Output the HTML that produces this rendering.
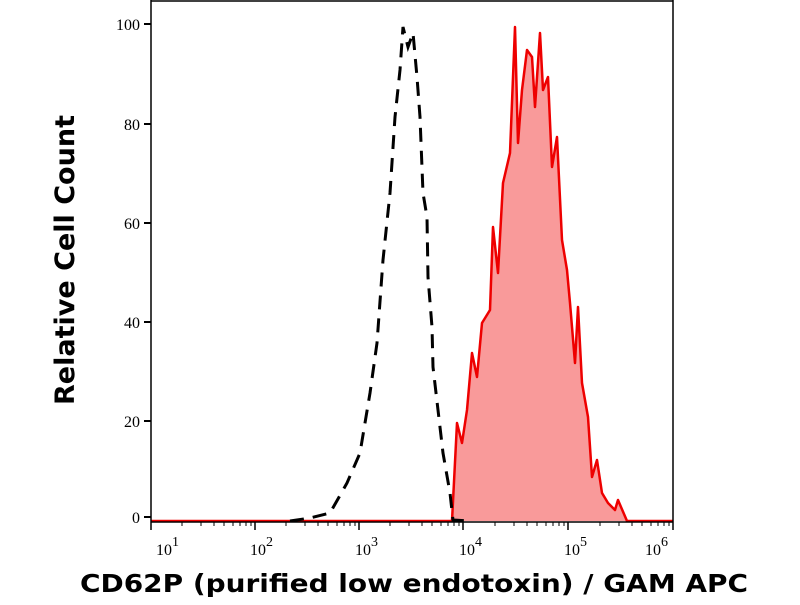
<!DOCTYPE html>
<html><head><style>body{margin:0;background:#fff}</style></head><body>
<svg width="800" height="600" viewBox="0 0 800 600" xmlns="http://www.w3.org/2000/svg">
<rect width="800" height="600" fill="#fff"/>
<polygon fill="#f99a9a" points="452,521 457,423 462,443 467,410 472,353 477,377 482,323 490,310 493,227 498,273 503,183 510,153 515,27 518,143 522,90 527,50 532,57 535,107 540,33 543,90 548,77 552,167 557,137 562,240 567,270 570,303 575,363 578,307 582,383 588,417 592,477 597,460 602,493 608,503 615,510 618,500 627,521"/>
<polyline fill="none" stroke="#e00" stroke-width="2.5" stroke-linejoin="round" points="151,521 452,521 457,423 462,443 467,410 472,353 477,377 482,323 490,310 493,227 498,273 503,183 510,153 515,27 518,143 522,90 527,50 532,57 535,107 540,33 543,90 548,77 552,167 557,137 562,240 567,270 570,303 575,363 578,307 582,383 588,417 592,477 597,460 602,493 608,503 615,510 618,500 627,521 673,521"/>
<polyline fill="none" stroke="#000" stroke-width="3" stroke-dasharray="14,9" points="290,521 310,518 330,513 347,483 360,453 370,393 377,343 383,260 390,193 395,117 400,70 403,27 408,47 413,33 417,77 420,117 423,193 427,217 428,277 432,327 433,367 438,410 443,453 450,493 453,520 470,521"/>
<g stroke="#000" stroke-width="1.5" fill="none">
<line x1="151" y1="0" x2="151" y2="522"/>
<line x1="151" y1="522" x2="673" y2="522"/>
<line x1="151" y1="1" x2="673" y2="1"/>
<line x1="673" y1="0" x2="673" y2="522"/>
</g>
<g stroke="#000" stroke-width="2">
<line x1="144" y1="24" x2="151" y2="24"/><line x1="144" y1="124" x2="151" y2="124"/><line x1="144" y1="223" x2="151" y2="223"/><line x1="144" y1="322" x2="151" y2="322"/><line x1="144" y1="421" x2="151" y2="421"/><line x1="144" y1="517" x2="151" y2="517"/>
</g>
<g stroke="#000" stroke-width="1.5">
<line x1="151" y1="522" x2="151" y2="530"/><line x1="255" y1="522" x2="255" y2="530"/><line x1="359" y1="522" x2="359" y2="530"/><line x1="463" y1="522" x2="463" y2="530"/><line x1="568" y1="522" x2="568" y2="530"/><line x1="673" y1="522" x2="673" y2="530"/>
</g>
<g stroke="#000" stroke-width="1">
<path d="M182,522v4M201,522v4M214,522v4M224,522v4M233,522v4M240,522v4M246,522v4M251,522v4
M286,522v4M305,522v4M318,522v4M328,522v4M337,522v4M344,522v4M350,522v4M355,522v4
M390,522v4M409,522v4M422,522v4M432,522v4M441,522v4M448,522v4M454,522v4M459,522v4
M495,522v4M514,522v4M527,522v4M537,522v4M546,522v4M553,522v4M559,522v4M564,522v4
M600,522v4M619,522v4M632,522v4M642,522v4M651,522v4M658,522v4M664,522v4M669,522v4"/>
</g>
<g font-family="Liberation Serif, serif" font-size="16" fill="#000" text-anchor="end">
<text x="140" y="30">100</text><text x="140" y="130">80</text><text x="140" y="229">60</text><text x="140" y="328">40</text><text x="140" y="427">20</text><text x="140" y="523">0</text>
</g>
<g font-family="Liberation Serif, serif" font-size="16" fill="#000">
<text x="156" y="555">10<tspan font-size="14" dy="-9">1</tspan></text>
<text x="250" y="555">10<tspan font-size="14" dy="-9">2</tspan></text>
<text x="355" y="555">10<tspan font-size="14" dy="-9">3</tspan></text>
<text x="459" y="555">10<tspan font-size="14" dy="-9">4</tspan></text>
<text x="564" y="555">10<tspan font-size="14" dy="-9">5</tspan></text>
<text x="645" y="555">10<tspan font-size="14" dy="-9">6</tspan></text>
</g>
<text x="80" y="592" textLength="668" lengthAdjust="spacingAndGlyphs" font-family="DejaVu Sans, sans-serif" font-weight="bold" font-size="25" fill="#000">CD62P (purified low endotoxin) / GAM APC</text>
<text transform="translate(74,405) rotate(-90)" textLength="290" lengthAdjust="spacingAndGlyphs" font-family="DejaVu Sans, sans-serif" font-weight="bold" font-size="27" fill="#000">Relative Cell Count</text>
</svg>
</body></html>
